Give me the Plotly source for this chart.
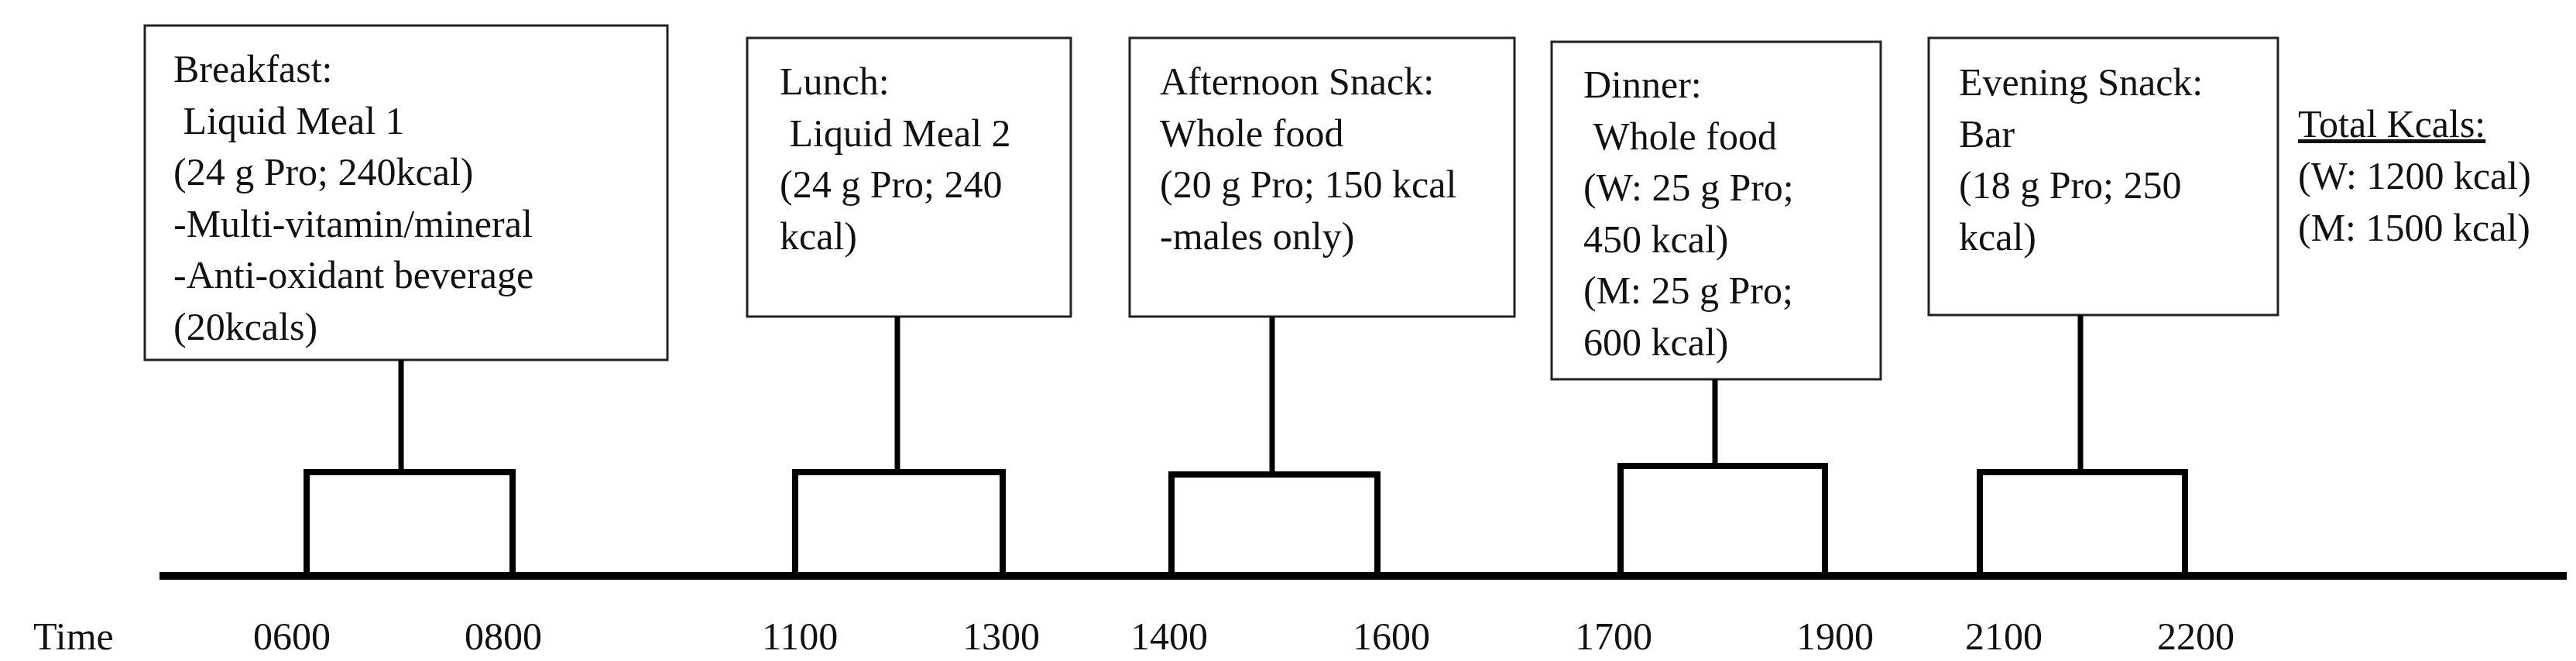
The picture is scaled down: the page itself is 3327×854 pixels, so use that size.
import plotly.graph_objects as go

# ---- data ----
meals = ["Breakfast", "Lunch", "Afternoon Snack", "Dinner", "Evening Snack"]
meal_text = [
    ["Breakfast:", " Liquid Meal 1", "(24 g Pro; 240kcal)", "-Multi-vitamin/mineral", "-Anti-oxidant beverage", "(20kcals)"],
    ["Lunch:", " Liquid Meal 2", "(24 g Pro; 240", "kcal)"],
    ["Afternoon Snack:", "Whole food", "(20 g Pro; 150 kcal", "-males only)"],
    ["Dinner:", " Whole food", "(W: 25 g Pro;", "450 kcal)", "(M: 25 g Pro;", "600 kcal)"],
    ["Evening Snack:", "Bar", "(18 g Pro; 250", "kcal)"],
]
time_start = ["0600", "1100", "1400", "1700", "2100"]
time_end = ["0800", "1300", "1600", "1900", "2200"]
total_text = ["<u>Total Kcals:</u>", "(W: 1200 kcal)", "(M: 1500 kcal)"]

# ---- layout (pixel positions of the diagram) ----
box_x0 = [179, 957, 1451, 1996, 2483]
box_x1 = [854, 1375, 1948, 2421, 2934]
box_y0 = [25, 41, 41, 46, 41]
box_y1 = [457, 401, 401, 482, 399]
text_x = [214, 997, 1488, 2035, 2520]
text_y0 = [81, 97, 97, 101, 98]
br_x0 = [388, 1019, 1505, 2085, 2549]
br_x1 = [654, 1287, 1771, 2349, 2814]
br_top = [602, 602, 605, 594, 602]
stem_x = [510, 1151, 1635, 2207, 2679]
base_y = 736
base_x = [198, 3307]
label_y = 814
label_x0 = [369, 1025, 1502, 2076, 2580]
label_x1 = [642, 1285, 1789, 2362, 2828]
line_gap = 66.5
FONT = dict(family="Liberation Serif", size=50, color="#111")

fig = go.Figure()
# baseline
fig.add_trace(go.Scatter(x=base_x, y=[base_y, base_y], mode="lines",
                         line=dict(color="black", width=10), hoverinfo="skip"))
for i in range(len(meals)):
    # bracket
    fig.add_trace(go.Scatter(x=[br_x0[i], br_x0[i], br_x1[i], br_x1[i]],
                             y=[base_y, br_top[i], br_top[i], base_y], mode="lines",
                             line=dict(color="black", width=8), hoverinfo="skip"))
    # stem
    fig.add_trace(go.Scatter(x=[stem_x[i], stem_x[i]], y=[br_top[i], box_y1[i]], mode="lines",
                             line=dict(color="black", width=7), hoverinfo="skip"))
    fig.add_shape(type="rect", x0=box_x0[i], x1=box_x1[i], y0=box_y0[i], y1=box_y1[i],
                  line=dict(color="#222", width=3), fillcolor="white", layer="below")
    for j, t in enumerate(meal_text[i]):
        fig.add_annotation(x=text_x[i], y=text_y0[i] + j * line_gap, text=t.replace(" ", "&nbsp;", 1) if t.startswith(" ") else t,
                           xanchor="left", yanchor="middle", showarrow=False, font=FONT)
    fig.add_annotation(x=label_x0[i], y=label_y, text=time_start[i], showarrow=False, font=FONT)
    fig.add_annotation(x=label_x1[i], y=label_y, text=time_end[i], showarrow=False, font=FONT)

fig.add_annotation(x=87, y=label_y, text="Time", showarrow=False, font=FONT)
for j, t in enumerate(total_text):
    fig.add_annotation(x=2958, y=152 + j * 67, text=t, xanchor="left", yanchor="middle",
                       showarrow=False, font=FONT)

fig.update_layout(width=3327, height=854, margin=dict(l=0, r=0, t=0, b=0),
                  paper_bgcolor="white", plot_bgcolor="white", showlegend=False,
                  xaxis=dict(range=[0, 3327], visible=False),
                  yaxis=dict(range=[854, 0], visible=False))
fig.write_html("out.html")
